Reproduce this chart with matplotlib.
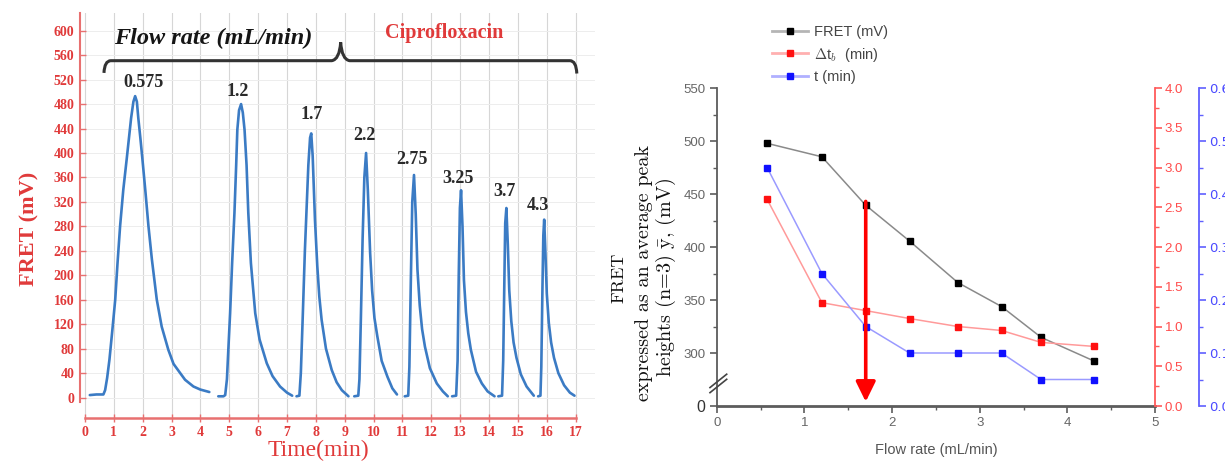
import matplotlib
matplotlib.use('Agg')
import matplotlib.pyplot as plt
from matplotlib.path import Path
from matplotlib.patches import PathPatch
from matplotlib.lines import Line2D
from matplotlib.ticker import MultipleLocator, FixedLocator, FormatStrFormatter

plt.rcParams['mathtext.fontset'] = 'cm'

# ---------------- data: left panel (FRET trace, mV vs time, min) ----------------
seg1_t = [0.17, 0.40, 0.64, 0.70, 0.77, 0.85, 0.95, 1.05, 1.13, 1.22, 1.33, 1.45, 1.60, 1.68, 1.74,
          1.80, 1.85, 1.92, 1.99, 2.10, 2.20, 2.32, 2.49, 2.66, 2.89, 3.07, 3.30, 3.47, 3.76, 4.00, 4.31]
seg1_mv = [4, 5, 5, 12, 32, 62, 110, 160, 220, 281, 340, 391, 457, 484, 493,
           484, 457, 425, 391, 335, 281, 226, 160, 116, 78, 55, 40, 29, 18, 13, 9]
seg2_t = [4.62, 4.80, 4.86, 4.92, 4.97, 5.03, 5.10, 5.18, 5.24, 5.28, 5.34, 5.41, 5.47, 5.53, 5.60,
          5.66, 5.75, 5.90, 6.05, 6.30, 6.50, 6.76, 7.00, 7.18]
seg2_mv = [2, 2, 4, 30, 80, 138, 220, 302, 380, 438, 470, 480, 466, 438, 380,
           302, 220, 138, 95, 56, 35, 18, 8, 3]
seg3_t = [7.33, 7.43, 7.48, 7.55, 7.62, 7.68, 7.74, 7.80, 7.84, 7.89, 7.97, 8.05, 8.12, 8.20, 8.35,
          8.55, 8.72, 8.90, 9.13]
seg3_mv = [2, 3, 40, 138, 240, 310, 380, 425, 432, 395, 290, 215, 165, 127, 80, 45, 25, 12, 2]
seg4_t = [9.33, 9.47, 9.51, 9.56, 9.62, 9.68, 9.74, 9.80, 9.88, 9.95, 10.03, 10.13, 10.28, 10.48, 10.65, 10.81]
seg4_mv = [2, 3, 30, 130, 260, 360, 400, 340, 237, 175, 130, 100, 60, 34, 15, 5]
seg5_t = [11.08, 11.20, 11.24, 11.29, 11.34, 11.40, 11.46, 11.52, 11.60, 11.68, 11.78, 11.95, 12.19, 12.40, 12.57]
seg5_mv = [2, 3, 50, 190, 320, 364, 300, 209, 150, 112, 83, 48, 23, 10, 2]
seg6_t = [12.72, 12.86, 12.91, 12.95, 12.99, 13.03, 13.08, 13.13, 13.20, 13.28, 13.37, 13.55, 13.75, 13.95, 14.19]
seg6_mv = [2, 3, 60, 200, 310, 339, 280, 192, 140, 105, 78, 42, 23, 10, 2]
seg7_t = [14.32, 14.45, 14.49, 14.53, 14.56, 14.60, 14.65, 14.70, 14.77, 14.85, 14.95, 15.10, 15.30, 15.55]
seg7_mv = [2, 3, 60, 190, 285, 310, 250, 175, 125, 90, 65, 38, 18, 3]
seg8_t = [15.70, 15.78, 15.81, 15.85, 15.88, 15.91, 15.95, 16.00, 16.07, 16.15, 16.25, 16.40, 16.60, 16.80, 16.96]
seg8_mv = [2, 3, 50, 180, 265, 291, 240, 170, 122, 90, 65, 40, 20, 8, 3]
peak_labels = ['0.575', '1.2', '1.7', '2.2', '2.75', '3.25', '3.7', '4.3']
left_xticks = list(range(0, 18))
left_yticks = list(range(0, 601, 40))

# ---------------- data: right panel ----------------
flow_rate = [0.575, 1.2, 1.7, 2.2, 2.75, 3.25, 3.7, 4.3]
fret_mv = [497.8, 485.1, 439.4, 405.6, 366.5, 343.8, 314.8, 292.6]
delta_tb_min = [2.60, 1.30, 1.20, 1.10, 1.00, 0.95, 0.80, 0.75]
t_min = [0.45, 0.25, 0.15, 0.10, 0.10, 0.10, 0.05, 0.05]
right_yticks = [250, 300, 350, 400, 450, 500, 550]
right_yticklabels = ['0', '300', '350', '400', '450', '500', '550']
legend_labels = ['FRET (mV)', r'$\Delta$t$_b$  (min)', 't (min)']
arrow_flow = 1.7

# ---------------- figure ----------------
W, H = 1225, 461
fig = plt.figure(figsize=(W / 100, H / 100), dpi=100)


def fx(px):
    return px / W


def fy(py):
    return 1 - py / H


SERIF = 'Liberation Serif'
SANS = 'Liberation Sans'
RED = '#e03a3a'
RED_AX = '#e87070'
TRACE = '#3b7bc4'

# ================= left panel =================
ax1 = fig.add_axes([fx(80), fy(418), 515 / W, 405 / H])
ax1.set_xlim(-0.17, 17.67)
ax1.set_ylim(-33.5, 629)
ax1.set_xticks(left_xticks)
ax1.set_yticks(left_yticks)
ax1.xaxis.grid(True, color='#d6d6d6', lw=0.8, zorder=0)
ax1.yaxis.grid(True, color='#ededed', lw=0.7, zorder=0)
ax1.set_axisbelow(True)

segments = [(seg1_t, seg1_mv), (seg2_t, seg2_mv), (seg3_t, seg3_mv), (seg4_t, seg4_mv),
            (seg5_t, seg5_mv), (seg6_t, seg6_mv), (seg7_t, seg7_mv), (seg8_t, seg8_mv)]
label_offsets_px = [(8, 14), (-3, 13), (0, 19), (-2, 17), (-2, 16), (-3, 12), (-2, 17), (-6, 14)]
for (ts, vs), lab, (ox, oy) in zip(segments, peak_labels, label_offsets_px):
    ax1.plot(ts, vs, color=TRACE, lw=1.9, solid_joinstyle='round', solid_capstyle='round', zorder=3)
    i = max(range(len(vs)), key=lambda k: vs[k])
    ax1.annotate(lab, xy=(ts[i], vs[i]), xytext=(ox * 0.72, oy * 0.72), textcoords='offset points',
                 ha='center', va='center', fontsize=13, fontweight='bold', family=SERIF,
                 color='#2a2a2a', zorder=4)

for s in ['top', 'right']:
    ax1.spines[s].set_visible(False)
ax1.spines['left'].set_color(RED_AX)
ax1.spines['left'].set_linewidth(1.5)
ax1.spines['left'].set_bounds(-7, 629)
ax1.spines['bottom'].set_color(RED_AX)
ax1.spines['bottom'].set_linewidth(1.8)
ax1.spines['bottom'].set_bounds(0, 17)
ax1.tick_params(axis='y', direction='in', length=4, width=1, color=RED_AX, labelcolor=RED, pad=4)
ax1.tick_params(axis='x', direction='inout', length=6, width=1, color=RED_AX, labelcolor=RED, pad=3)
for lab in ax1.get_xticklabels() + ax1.get_yticklabels():
    lab.set_family(SERIF)
    lab.set_fontweight('bold')
    lab.set_fontsize(10)

fig.text(fx(318), fy(450), 'Time(min)', family=SERIF, fontsize=17, color=RED, ha='center', va='center')
fig.text(fx(29), fy(229), 'FRET (mV)', family=SERIF, fontsize=16, fontweight='bold', color=RED,
         ha='center', va='center', rotation=90)

# brace annotation
verts = [(0.66, 531), (0.68, 551), (0.90, 551), (8.55, 551), (8.82, 553), (8.86, 581),
         (8.90, 553), (9.17, 551), (16.80, 551), (17.02, 551), (17.04, 530)]
codes = [Path.MOVETO, Path.CURVE3, Path.CURVE3, Path.LINETO, Path.CURVE3, Path.CURVE3,
         Path.CURVE3, Path.CURVE3, Path.LINETO, Path.CURVE3, Path.CURVE3]
ax1.add_patch(PathPatch(Path(verts, codes), facecolor='none', edgecolor='#333333', lw=2.2, zorder=4,
                        clip_on=False))
ax1.text(4.45, 587, 'Flow rate (mL/min)', family=SERIF, style='italic', fontweight='bold', fontsize=17.5,
         color='#151515', ha='center', va='center')
ax1.text(12.44, 597, 'Ciprofloxacin', family=SERIF, fontweight='bold', fontsize=14.5, color=RED,
         ha='center', va='center')

# ================= right panel =================
ax2 = fig.add_axes([fx(716.7), fy(406), 438.3 / W, 318 / H])
ax2.set_xlim(0, 5)
ax2.set_ylim(250, 550)
GRAY = '#5c5c5c'
for s in ['top', 'right']:
    ax2.spines[s].set_visible(False)
ax2.spines['left'].set_color(GRAY)
ax2.spines['left'].set_linewidth(1.3)
ax2.spines['bottom'].set_color(GRAY)
ax2.spines['bottom'].set_linewidth(2.0)
ax2.set_yticks(right_yticks)
ax2.set_yticklabels(right_yticklabels)
ax2.yaxis.set_minor_locator(FixedLocator([325, 375, 425, 475, 525]))
ax2.xaxis.set_major_locator(MultipleLocator(1))
ax2.xaxis.set_minor_locator(MultipleLocator(0.5))
ax2.tick_params(which='major', direction='out', length=5, width=1.2, color=GRAY, labelcolor='#666666',
                labelsize=9.5, pad=3)
ax2.tick_params(which='minor', direction='out', length=3, width=1, color=GRAY)
for lab in ax2.get_xticklabels() + ax2.get_yticklabels():
    lab.set_family(SANS)
ax2.get_yticklabels()[0].set_fontsize(11.5)
ax2.get_yticklabels()[0].set_color('#333333')
ax2.set_xlabel('Flow rate (mL/min)', family=SANS, fontsize=10.5, color='#555555', labelpad=10)

l1, = ax2.plot(flow_rate, fret_mv, color='#8a8a8a', lw=1.1, marker='s', ms=4.5, mfc='black',
               mec='black', zorder=3)

ax3 = ax2.twinx()
ax3.set_ylim(0, 4)
l2, = ax3.plot(flow_rate, delta_tb_min, color='#ff9a9a', lw=1.1, marker='s', ms=4.5, mfc='#ff1010',
               mec='#ff1010')
ax4 = ax2.twinx()
ax4.set_ylim(0, 0.6)
l3, = ax4.plot(flow_rate, t_min, color='#9a9aff', lw=1.1, marker='s', ms=4.5, mfc='#1010ff', mec='#1010ff')

for ax, col, lcol, maj, mn in [(ax3, '#ff5a5a', '#ff4a4a', 0.5, 0.25), (ax4, '#6060ff', '#4a4aff', 0.1, 0.05)]:
    for s in ['top', 'left', 'bottom']:
        ax.spines[s].set_visible(False)
    ax.spines['right'].set_color(col)
    ax.spines['right'].set_linewidth(1.3)
    ax.yaxis.set_major_locator(MultipleLocator(maj))
    ax.yaxis.set_minor_locator(MultipleLocator(mn))
    ax.yaxis.set_major_formatter(FormatStrFormatter('%.1f'))
    ax.tick_params(which='major', direction='out', length=5, width=1.2, color=col, labelcolor=lcol,
                   labelsize=9.5, pad=2)
    ax.tick_params(which='minor', direction='out', length=3, width=1, color=col)
    for lab in ax.get_yticklabels():
        lab.set_family(SANS)
ax4.spines['right'].set_position(('outward', 44 * 0.72))

# arrow
ax4.annotate('', xy=(arrow_flow, 254), xytext=(arrow_flow, 443), xycoords=ax2.transData,
             textcoords=ax2.transData,
             arrowprops=dict(arrowstyle='-|>,head_length=0.55,head_width=0.27', color='#ff0000', lw=2.6,
                             mutation_scale=22, shrinkA=0, shrinkB=0), zorder=5)

# axis break marks
for dy in (-0.008, 0.008):
    ax2.plot([-0.0153, 0.0228], [0.050 + dy, 0.092 + dy], transform=ax2.transAxes, color='#444444',
             lw=1.2, clip_on=False, zorder=6)

# y label (three lines)
CM = ['cmr10', 'DejaVu Serif']
fig.text(fx(619), fy(278), 'FRET', family=CM, fontsize=13, ha='center', va='center', rotation=90,
         color='#111111')
fig.text(fx(644), fy(273), 'expressed as an average peak', family=CM, fontsize=14.5, ha='center',
         va='center', rotation=90, color='#111111')
fig.text(fx(666), fy(277), r'heights (n=3) $\bar{\mathrm{y}}$, (mV)', family=CM, fontsize=14.5,
         ha='center', va='center', rotation=90, color='#111111')

# legend
handles = [Line2D([], [], color='#b5b5b5', lw=2, marker='s', ms=4.5, mfc='black', mec='black'),
           Line2D([], [], color='#ffb0b0', lw=2, marker='s', ms=4.5, mfc='#ff1010', mec='#ff1010'),
           Line2D([], [], color='#b0b0ff', lw=2, marker='s', ms=4.5, mfc='#1010ff', mec='#1010ff')]
leg = fig.legend(handles, legend_labels, loc='upper left', bbox_to_anchor=(fx(772), fy(25)),
                 frameon=False, prop={'family': SANS, 'size': 10.5}, handlelength=2.5, handletextpad=0.35,
                 labelspacing=0.45, borderpad=0, borderaxespad=0)
for t in leg.get_texts():
    t.set_color('#444444')

fig.savefig('out.png', dpi=100)
